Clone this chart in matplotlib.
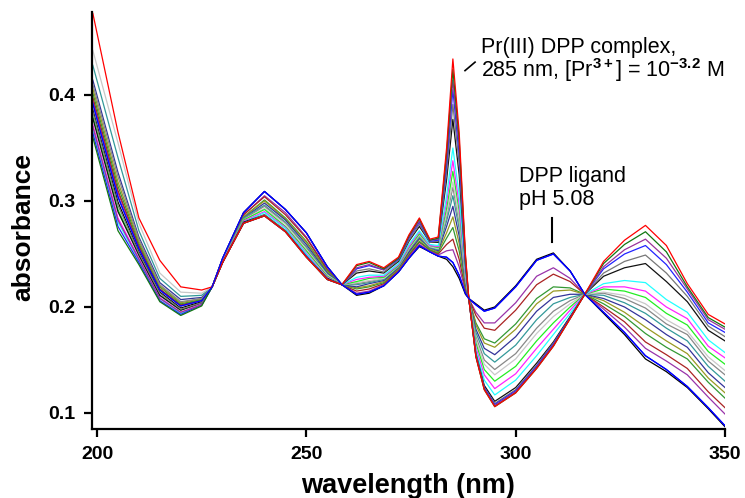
import matplotlib
matplotlib.use("Agg")
import matplotlib.pyplot as plt

plt.rcParams['font.family'] = ['Liberation Sans', 'DejaVu Sans']
plt.rcParams['mathtext.fontset'] = 'custom'
plt.rcParams['mathtext.rm'] = 'Liberation Sans'
plt.rcParams['mathtext.it'] = 'Liberation Sans:italic'
plt.rcParams['mathtext.bf'] = 'Liberation Sans:bold'

# ---------------- data ----------------
wavelength = [199, 205, 210, 215, 220, 225, 227.5, 230, 235, 240, 245, 250, 255, 258.5,
              262, 265, 268.5, 272, 274.5, 277, 279.5, 281.5, 283.5, 285, 286.5, 288, 288.8,
              290.5, 292.5, 295, 300, 305, 309, 313, 316.5, 321, 326, 331, 336, 341, 346, 350]

spec_01 = [0.386, 0.299, 0.252, 0.214, 0.199, 0.205, 0.219, 0.246, 0.289, 0.309, 0.292, 0.270, 0.238, 0.221,
           0.211, 0.213, 0.220, 0.233, 0.246, 0.257, 0.252, 0.248, 0.245, 0.238, 0.227, 0.212, 0.208,
           0.203, 0.197, 0.200, 0.220, 0.245, 0.251, 0.234, 0.212, 0.194, 0.174, 0.151, 0.139, 0.124, 0.104, 0.087]
spec_02 = [0.392, 0.304, 0.255, 0.216, 0.201, 0.206, 0.219, 0.246, 0.289, 0.309, 0.292, 0.270, 0.238, 0.221,
           0.212, 0.214, 0.220, 0.233, 0.246, 0.258, 0.252, 0.248, 0.247, 0.242, 0.230, 0.213, 0.208,
           0.202, 0.196, 0.199, 0.219, 0.244, 0.250, 0.234, 0.212, 0.195, 0.176, 0.154, 0.141, 0.125, 0.105, 0.088]
spec_03 = [0.395, 0.308, 0.257, 0.217, 0.201, 0.206, 0.219, 0.245, 0.287, 0.305, 0.289, 0.266, 0.236, 0.221,
           0.213, 0.215, 0.221, 0.234, 0.248, 0.259, 0.253, 0.249, 0.253, 0.254, 0.238, 0.215, 0.208,
           0.195, 0.185, 0.185, 0.204, 0.229, 0.237, 0.227, 0.212, 0.198, 0.181, 0.161, 0.149, 0.136, 0.115, 0.099]
spec_04 = [0.398, 0.310, 0.258, 0.217, 0.202, 0.207, 0.219, 0.245, 0.287, 0.304, 0.287, 0.265, 0.235, 0.221,
           0.215, 0.217, 0.222, 0.235, 0.249, 0.261, 0.254, 0.250, 0.259, 0.264, 0.245, 0.217, 0.208,
           0.192, 0.180, 0.178, 0.197, 0.221, 0.231, 0.224, 0.212, 0.200, 0.186, 0.167, 0.155, 0.142, 0.120, 0.105]
spec_05 = [0.402, 0.314, 0.260, 0.219, 0.203, 0.207, 0.219, 0.245, 0.285, 0.301, 0.284, 0.262, 0.234, 0.221,
           0.217, 0.219, 0.223, 0.236, 0.250, 0.262, 0.254, 0.251, 0.265, 0.275, 0.253, 0.219, 0.208,
           0.185, 0.170, 0.166, 0.184, 0.208, 0.219, 0.218, 0.212, 0.203, 0.191, 0.175, 0.162, 0.151, 0.129, 0.114]
spec_06 = [0.406, 0.318, 0.262, 0.220, 0.204, 0.208, 0.219, 0.244, 0.285, 0.300, 0.283, 0.261, 0.233, 0.221,
           0.218, 0.220, 0.224, 0.236, 0.251, 0.264, 0.255, 0.252, 0.270, 0.285, 0.260, 0.221, 0.208,
           0.183, 0.166, 0.162, 0.179, 0.203, 0.215, 0.216, 0.212, 0.206, 0.195, 0.181, 0.168, 0.156, 0.133, 0.119]
spec_07 = [0.414, 0.327, 0.266, 0.223, 0.207, 0.209, 0.219, 0.244, 0.284, 0.298, 0.282, 0.259, 0.232, 0.221,
           0.219, 0.222, 0.225, 0.237, 0.252, 0.265, 0.256, 0.253, 0.276, 0.295, 0.267, 0.223, 0.208,
           0.179, 0.161, 0.155, 0.172, 0.196, 0.209, 0.212, 0.212, 0.208, 0.200, 0.188, 0.174, 0.162, 0.138, 0.124]
spec_08 = [0.428, 0.341, 0.272, 0.227, 0.210, 0.211, 0.219, 0.244, 0.284, 0.296, 0.280, 0.257, 0.231, 0.221,
           0.221, 0.223, 0.226, 0.238, 0.254, 0.266, 0.256, 0.254, 0.281, 0.305, 0.274, 0.225, 0.208,
           0.176, 0.156, 0.148, 0.164, 0.188, 0.203, 0.209, 0.212, 0.211, 0.204, 0.194, 0.180, 0.168, 0.144, 0.130]
spec_09 = [0.410, 0.323, 0.264, 0.221, 0.205, 0.208, 0.219, 0.244, 0.283, 0.295, 0.279, 0.256, 0.230, 0.221,
           0.222, 0.224, 0.227, 0.238, 0.254, 0.267, 0.257, 0.255, 0.285, 0.313, 0.279, 0.226, 0.208,
           0.172, 0.150, 0.141, 0.156, 0.180, 0.196, 0.206, 0.212, 0.213, 0.208, 0.199, 0.184, 0.174, 0.149, 0.136]
spec_10 = [0.442, 0.355, 0.279, 0.232, 0.214, 0.213, 0.219, 0.243, 0.282, 0.293, 0.278, 0.254, 0.230, 0.221,
           0.223, 0.225, 0.227, 0.239, 0.255, 0.268, 0.257, 0.255, 0.288, 0.318, 0.284, 0.228, 0.208,
           0.169, 0.146, 0.136, 0.151, 0.175, 0.191, 0.203, 0.212, 0.214, 0.211, 0.203, 0.188, 0.177, 0.153, 0.140]
spec_11 = [0.380, 0.292, 0.249, 0.211, 0.197, 0.204, 0.219, 0.243, 0.282, 0.292, 0.276, 0.253, 0.229, 0.221,
           0.224, 0.227, 0.228, 0.239, 0.256, 0.269, 0.258, 0.256, 0.293, 0.328, 0.291, 0.230, 0.208,
           0.166, 0.141, 0.130, 0.144, 0.168, 0.185, 0.200, 0.212, 0.217, 0.215, 0.209, 0.194, 0.183, 0.158, 0.146]
spec_12 = [0.372, 0.284, 0.246, 0.209, 0.195, 0.203, 0.219, 0.243, 0.281, 0.290, 0.275, 0.251, 0.228, 0.221,
           0.226, 0.228, 0.229, 0.240, 0.257, 0.271, 0.258, 0.257, 0.299, 0.338, 0.297, 0.231, 0.208,
           0.162, 0.136, 0.123, 0.137, 0.161, 0.179, 0.197, 0.212, 0.219, 0.219, 0.215, 0.200, 0.189, 0.163, 0.152]
spec_13 = [0.368, 0.280, 0.244, 0.208, 0.194, 0.202, 0.219, 0.242, 0.280, 0.289, 0.274, 0.250, 0.227, 0.221,
           0.228, 0.230, 0.230, 0.241, 0.259, 0.272, 0.259, 0.258, 0.305, 0.350, 0.306, 0.234, 0.208,
           0.159, 0.131, 0.117, 0.131, 0.154, 0.174, 0.194, 0.212, 0.222, 0.225, 0.223, 0.207, 0.195, 0.169, 0.157]
spec_14 = [0.378, 0.290, 0.249, 0.211, 0.197, 0.204, 0.219, 0.242, 0.280, 0.287, 0.272, 0.248, 0.227, 0.221,
           0.232, 0.234, 0.232, 0.243, 0.262, 0.276, 0.261, 0.261, 0.320, 0.377, 0.325, 0.239, 0.208,
           0.156, 0.126, 0.111, 0.124, 0.147, 0.167, 0.191, 0.212, 0.229, 0.237, 0.241, 0.224, 0.205, 0.178, 0.168]
spec_15 = [0.384, 0.296, 0.251, 0.213, 0.198, 0.204, 0.219, 0.242, 0.279, 0.287, 0.272, 0.248, 0.226, 0.221,
           0.234, 0.236, 0.233, 0.244, 0.263, 0.278, 0.261, 0.262, 0.327, 0.391, 0.335, 0.242, 0.208,
           0.155, 0.124, 0.109, 0.122, 0.145, 0.166, 0.190, 0.212, 0.232, 0.243, 0.249, 0.232, 0.210, 0.182, 0.172]
spec_16 = [0.364, 0.276, 0.242, 0.206, 0.193, 0.202, 0.219, 0.242, 0.279, 0.286, 0.271, 0.248, 0.226, 0.221,
           0.236, 0.239, 0.235, 0.245, 0.265, 0.280, 0.262, 0.263, 0.334, 0.405, 0.344, 0.244, 0.208,
           0.154, 0.124, 0.108, 0.121, 0.144, 0.165, 0.190, 0.212, 0.236, 0.250, 0.258, 0.240, 0.214, 0.185, 0.176]
spec_17 = [0.370, 0.282, 0.245, 0.208, 0.195, 0.202, 0.219, 0.242, 0.279, 0.286, 0.271, 0.247, 0.226, 0.221,
           0.237, 0.240, 0.235, 0.246, 0.266, 0.281, 0.263, 0.264, 0.340, 0.414, 0.351, 0.246, 0.208,
           0.154, 0.123, 0.107, 0.120, 0.143, 0.164, 0.189, 0.212, 0.238, 0.254, 0.264, 0.246, 0.217, 0.188, 0.179]
spec_18 = [0.360, 0.272, 0.240, 0.205, 0.192, 0.201, 0.219, 0.242, 0.279, 0.286, 0.271, 0.247, 0.226, 0.221,
           0.239, 0.242, 0.236, 0.246, 0.267, 0.283, 0.263, 0.265, 0.345, 0.424, 0.358, 0.248, 0.208,
           0.153, 0.122, 0.106, 0.119, 0.142, 0.163, 0.189, 0.212, 0.241, 0.259, 0.271, 0.252, 0.219, 0.190, 0.181]
spec_19 = [0.477, 0.365, 0.284, 0.244, 0.219, 0.216, 0.219, 0.242, 0.279, 0.286, 0.271, 0.247, 0.226, 0.221,
           0.240, 0.243, 0.237, 0.247, 0.268, 0.284, 0.264, 0.266, 0.350, 0.434, 0.365, 0.250, 0.208,
           0.153, 0.122, 0.106, 0.119, 0.142, 0.163, 0.189, 0.212, 0.243, 0.263, 0.277, 0.258, 0.222, 0.193, 0.184]

spectra = [spec_01, spec_02, spec_03, spec_04, spec_05, spec_06, spec_07, spec_08, spec_09, spec_10,
           spec_11, spec_12, spec_13, spec_14, spec_15, spec_16, spec_17, spec_18, spec_19]

colors = ['#000000', '#0000ff', '#9933aa', '#aa2222', '#339933', '#999922', '#333399', '#339999',
          '#888888', '#c8c8c8', '#22ee22', '#ff22ff', '#22ffff', '#111111', '#777777', '#2222ff',
          '#993399', '#117711', '#ff0000']

x_ticks = [200, 250, 300, 350]
y_ticks = [0.1, 0.2, 0.3, 0.4]

# ---------------- figure ----------------
fig = plt.figure(figsize=(7.45, 4.98), dpi=100)
ax = fig.add_axes([92 / 745, 69 / 498, 633 / 745, 417 / 498])

for spec, col in zip(spectra, colors):
    ax.plot(wavelength, spec, color=col, lw=0.9)
# ligand curve drawn again on top of the bundle around its band
ax.plot(wavelength, spec_02, color=colors[1], lw=0.9)

ax.set_xlim(198.8, 350)
ax.set_ylim(0.0849, 0.4783)
ax.set_xticks(x_ticks)
ax.set_xticklabels([str(v) for v in x_ticks])
ax.set_yticks(y_ticks)
ax.set_yticklabels(['%.1f' % v for v in y_ticks])

for s in ['top', 'right']:
    ax.spines[s].set_visible(False)
for s in ['left', 'bottom']:
    ax.spines[s].set_linewidth(1.6)
ax.tick_params(axis='both', direction='out', length=6, width=1.6, pad=6,
               labelsize=14)
for lab in ax.get_xticklabels() + ax.get_yticklabels():
    lab.set_fontweight('bold')

fig.text(408.5 / 745, 5 / 498, 'wavelength (nm)', ha='center', va='baseline',
         fontsize=19.5, fontweight='bold')
fig.text(23.5 / 745, 1 - 227 / 498, 'absorbance', ha='center', va='center',
         rotation=90, fontsize=19, fontweight='bold')

# annotations
ax.text(291.7, 0.4396, 'Pr(III) DPP complex,', fontsize=15.5, ha='left', va='baseline')
ax.text(291.7, 0.417, r'285 nm, [Pr$^{\mathbf{3+}}$] = 10$^{\mathbf{-3.2}}$ M', fontsize=15.5,
        ha='left', va='baseline')
ax.plot([287.9, 290.3], [0.423, 0.431], color='black', lw=1.2)

ax.text(300.8, 0.318, 'DPP ligand', fontsize=15.5, ha='left', va='baseline')
ax.text(300.8, 0.296, 'pH 5.08', fontsize=15.5, ha='left', va='baseline')
ax.plot([308.6, 308.6], [0.261, 0.284], color='black', lw=1.5)

fig.savefig('out.png', dpi=100)
